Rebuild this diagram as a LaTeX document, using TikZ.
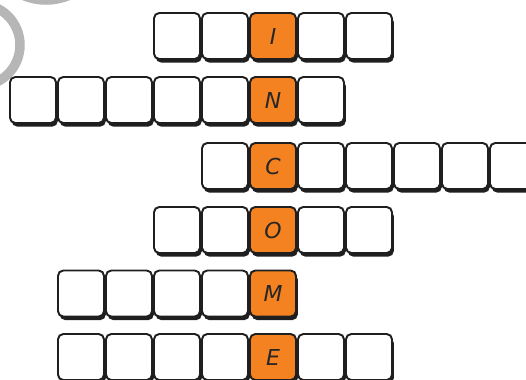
\documentclass[tikz,border=0pt]{standalone}
\usepackage{fontspec}
\newfontfamily\tilefont{DejaVu Sans}
\usetikzlibrary{shadows}

\definecolor{tileorange}{RGB}{244,130,32}
\definecolor{ringgray}{RGB}{182,182,182}

\begin{document}
\begin{tikzpicture}[
  base/.style={
    minimum size=0.92cm, inner sep=0pt,
    rounded corners=3pt, line width=1.1pt, draw=black!88,
    drop shadow={shadow xshift=0.035cm, shadow yshift=-0.07cm,
      fill=black!88, opacity=1},
  },
  tilebox/.style={base, fill=white},
  keybox/.style={base, fill=tileorange,
    font=\tilefont\itshape\fontsize{12.5}{12.5}\selectfont, text=black!85},
  ringarc/.style={draw=ringgray, line width=0.19cm},
]

% Column x-positions
\def\cA{0.66}
\def\cB{1.62}
\def\cC{2.58}
\def\cD{3.54}
\def\cE{4.50}
\def\cF{5.46}
\def\cG{6.42}
\def\cH{7.38}
\def\cI{8.34}
\def\cJ{9.30}
\def\cK{10.26}

% Row y-positions
\def\rI{-0.72}
\def\rII{-2.00}
\def\rIII{-3.32}
\def\rIV{-4.60}
\def\rV{-5.87}
\def\rVI{-7.14}

\useasboundingbox (0,0) rectangle (10.52,-7.58);
\clip (0,0) rectangle (10.52,-7.58);

% ---- Gray rings in the corner ----
\draw[ringarc] (-0.42,-0.90) circle (0.82);
\draw[ringarc] (0.92,1.18) circle (1.18);

% ======== Row 1: I ========
\node[tilebox] (r1a) at (\cD, \rI) {};
\node[tilebox] (r1b) at (\cE, \rI) {};
\node[keybox]  (r1c) at (\cF, \rI) {I};
\node[tilebox] (r1d) at (\cG, \rI) {};
\node[tilebox] (r1e) at (\cH, \rI) {};

% ======== Row 2: N ========
\node[tilebox] (r2a) at (\cA, \rII) {};
\node[tilebox] (r2b) at (\cB, \rII) {};
\node[tilebox] (r2c) at (\cC, \rII) {};
\node[tilebox] (r2d) at (\cD, \rII) {};
\node[tilebox] (r2e) at (\cE, \rII) {};
\node[keybox]  (r2f) at (\cF, \rII) {N};
\node[tilebox] (r2g) at (\cG, \rII) {};

% ======== Row 3: C ========
\node[tilebox] (r3a) at (\cE, \rIII) {};
\node[keybox]  (r3b) at (\cF, \rIII) {C};
\node[tilebox] (r3c) at (\cG, \rIII) {};
\node[tilebox] (r3d) at (\cH, \rIII) {};
\node[tilebox] (r3e) at (\cI, \rIII) {};
\node[tilebox] (r3f) at (\cJ, \rIII) {};
\node[tilebox] (r3g) at (\cK, \rIII) {};

% ======== Row 4: O ========
\node[tilebox] (r4a) at (\cD, \rIV) {};
\node[tilebox] (r4b) at (\cE, \rIV) {};
\node[keybox]  (r4c) at (\cF, \rIV) {O};
\node[tilebox] (r4d) at (\cG, \rIV) {};
\node[tilebox] (r4e) at (\cH, \rIV) {};

% ======== Row 5: M ========
\node[tilebox] (r5a) at (\cB, \rV) {};
\node[tilebox] (r5b) at (\cC, \rV) {};
\node[tilebox] (r5c) at (\cD, \rV) {};
\node[tilebox] (r5d) at (\cE, \rV) {};
\node[keybox]  (r5e) at (\cF, \rV) {M};

% ======== Row 6: E ========
\node[tilebox] (r6a) at (\cB, \rVI) {};
\node[tilebox] (r6b) at (\cC, \rVI) {};
\node[tilebox] (r6c) at (\cD, \rVI) {};
\node[tilebox] (r6d) at (\cE, \rVI) {};
\node[keybox]  (r6e) at (\cF, \rVI) {E};
\node[tilebox] (r6f) at (\cG, \rVI) {};
\node[tilebox] (r6g) at (\cH, \rVI) {};

\end{tikzpicture}
\end{document}
